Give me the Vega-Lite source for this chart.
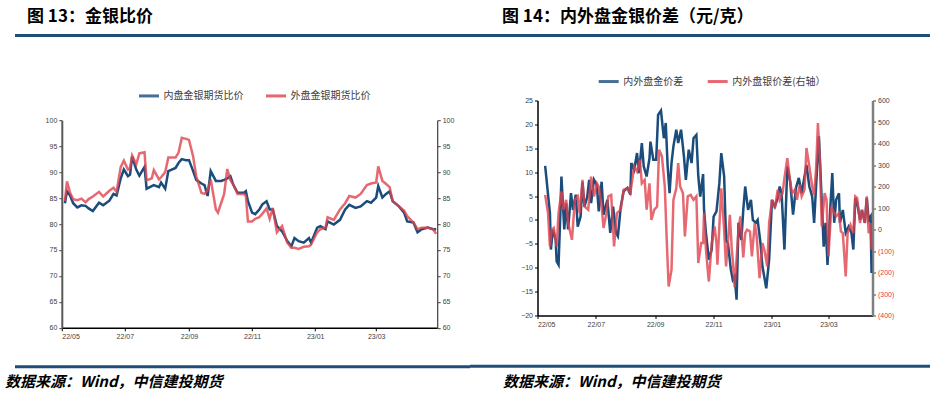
{
"$schema":"https://vega.github.io/schema/vega-lite/v6.json",
"background":"white",
"padding":{"left":5,"top":8,"right":5,"bottom":0},
"config":{"view":{"stroke":null},"font":"Noto Sans CJK SC","axis":{"labelFont":"Liberation Sans","labelFontSize":7,"labelColor":"#404040","labelPadding":2,"tickSize":3,"grid":false,"title":null}},
"datasets":{
"L":[
{"d":"2022-05-04","a":84.0,"b":84.4},{"d":"2022-05-06","a":86.3,"b":88.2},{"d":"2022-05-09","a":85.5,"b":86.0},{"d":"2022-05-12","a":84.0,"b":84.8},{"d":"2022-05-16","a":83.2,"b":84.6},{"d":"2022-05-20","a":83.6,"b":84.9},{"d":"2022-05-24","a":83.5,"b":84.2},{"d":"2022-05-27","a":83.0,"b":84.8},{"d":"2022-05-31","a":82.5,"b":85.3},{"d":"2022-06-06","a":84.1,"b":86.2},{"d":"2022-06-10","a":83.6,"b":85.3},{"d":"2022-06-16","a":84.5,"b":86.4},{"d":"2022-06-20","a":85.8,"b":87.0},{"d":"2022-06-23","a":85.5,"b":86.2},{"d":"2022-06-27","a":88.8,"b":91.0},{"d":"2022-06-30","a":90.5,"b":92.2},{"d":"2022-07-04","a":89.2,"b":90.5},{"d":"2022-07-06","a":89.5,"b":90.8},{"d":"2022-07-08","a":93.0,"b":93.2},{"d":"2022-07-12","a":90.5,"b":91.5},{"d":"2022-07-15","a":89.3,"b":93.6},{"d":"2022-07-20","a":91.0,"b":93.8},{"d":"2022-07-22","a":86.8,"b":88.4},{"d":"2022-07-27","a":87.3,"b":88.8},{"d":"2022-07-29","a":87.5,"b":90.4},{"d":"2022-08-03","a":87.1,"b":88.6},{"d":"2022-08-05","a":88.0,"b":89.0},{"d":"2022-08-09","a":86.8,"b":90.0},{"d":"2022-08-12","a":90.2,"b":92.8},{"d":"2022-08-19","a":90.8,"b":92.8},{"d":"2022-08-22","a":91.8,"b":93.8},{"d":"2022-08-25","a":92.5,"b":96.6},{"d":"2022-08-29","a":92.3,"b":96.4},{"d":"2022-09-01","a":92.3,"b":96.2},{"d":"2022-09-05","a":90.2,"b":93.0},{"d":"2022-09-08","a":88.5,"b":89.2},{"d":"2022-09-13","a":87.8,"b":86.0},{"d":"2022-09-16","a":87.5,"b":85.8},{"d":"2022-09-19","a":85.4,"b":86.5},{"d":"2022-09-22","a":90.2,"b":88.6},{"d":"2022-09-27","a":88.3,"b":82.8},{"d":"2022-09-29","a":88.3,"b":82.2},{"d":"2022-10-02","a":88.3,"b":84.0},{"d":"2022-10-05","a":88.5,"b":85.8},{"d":"2022-10-08","a":88.8,"b":90.6},{"d":"2022-10-11","a":89.2,"b":88.5},{"d":"2022-10-14","a":87.5,"b":87.5},{"d":"2022-10-18","a":86.0,"b":85.8},{"d":"2022-10-24","a":86.0,"b":85.8},{"d":"2022-10-26","a":86.3,"b":85.4},{"d":"2022-10-28","a":84.4,"b":80.5},{"d":"2022-11-01","a":82.2,"b":80.5},{"d":"2022-11-04","a":81.9,"b":81.0},{"d":"2022-11-08","a":82.8,"b":81.3},{"d":"2022-11-11","a":83.8,"b":82.0},{"d":"2022-11-15","a":84.4,"b":83.0},{"d":"2022-11-18","a":82.8,"b":81.0},{"d":"2022-11-21","a":82.8,"b":83.1},{"d":"2022-11-25","a":79.6,"b":78.4},{"d":"2022-11-30","a":78.6,"b":79.6},{"d":"2022-12-05","a":76.7,"b":76.4},{"d":"2022-12-09","a":75.7,"b":75.4},{"d":"2022-12-12","a":77.3,"b":75.4},{"d":"2022-12-16","a":76.7,"b":75.2},{"d":"2022-12-21","a":76.4,"b":75.6},{"d":"2022-12-26","a":77.3,"b":75.7},{"d":"2022-12-28","a":76.4,"b":76.0},{"d":"2023-01-03","a":79.3,"b":78.4},{"d":"2023-01-06","a":79.6,"b":79.0},{"d":"2023-01-11","a":79.0,"b":79.3},{"d":"2023-01-13","a":80.5,"b":81.3},{"d":"2023-01-19","a":79.9,"b":80.8},{"d":"2023-01-25","a":80.8,"b":82.8},{"d":"2023-01-30","a":82.8,"b":84.0},{"d":"2023-02-03","a":83.7,"b":85.4},{"d":"2023-02-09","a":83.1,"b":85.1},{"d":"2023-02-14","a":83.4,"b":85.8},{"d":"2023-02-20","a":84.4,"b":87.5},{"d":"2023-02-24","a":84.1,"b":87.8},{"d":"2023-03-01","a":85.1,"b":88.0},{"d":"2023-03-03","a":87.3,"b":91.1},{"d":"2023-03-07","a":85.1,"b":88.3},{"d":"2023-03-10","a":85.7,"b":87.8},{"d":"2023-03-14","a":86.3,"b":87.1},{"d":"2023-03-17","a":84.4,"b":84.4},{"d":"2023-03-23","a":83.4,"b":83.4},{"d":"2023-03-28","a":82.2,"b":82.6},{"d":"2023-03-31","a":80.5,"b":81.5},{"d":"2023-04-06","a":80.3,"b":80.3},{"d":"2023-04-10","a":78.4,"b":79.0},{"d":"2023-04-14","a":79.0,"b":79.3},{"d":"2023-04-20","a":79.3,"b":79.3},{"d":"2023-04-25","a":79.0,"b":79.0},{"d":"2023-04-28","a":79.0,"b":78.1}
],
"AU":[
{"d":"2022-05-09","v":11.3},{"d":"2022-05-14","v":1.4},{"d":"2022-05-15","v":-6.2},{"d":"2022-05-17","v":-2.0},{"d":"2022-05-20","v":-4.2},{"d":"2022-05-21","v":-8.7},{"d":"2022-05-23","v":-9.4},{"d":"2022-05-25","v":2.1},{"d":"2022-05-26","v":9.1},{"d":"2022-05-29","v":-2.0},{"d":"2022-05-31","v":3.5},{"d":"2022-06-02","v":-2.0},{"d":"2022-06-05","v":5.6},{"d":"2022-06-07","v":2.1},{"d":"2022-06-10","v":5.3},{"d":"2022-06-12","v":-1.4},{"d":"2022-06-15","v":0.7},{"d":"2022-06-17","v":8.0},{"d":"2022-06-19","v":2.8},{"d":"2022-06-22","v":4.9},{"d":"2022-06-24","v":8.4},{"d":"2022-06-26","v":3.5},{"d":"2022-06-29","v":8.4},{"d":"2022-07-02","v":7.3},{"d":"2022-07-04","v":1.8},{"d":"2022-07-07","v":8.0},{"d":"2022-07-09","v":1.1},{"d":"2022-07-13","v":4.2},{"d":"2022-07-16","v":-2.7},{"d":"2022-07-19","v":2.8},{"d":"2022-07-22","v":-2.7},{"d":"2022-07-24","v":-3.4},{"d":"2022-07-27","v":2.8},{"d":"2022-07-30","v":6.0},{"d":"2022-08-03","v":6.7},{"d":"2022-08-06","v":5.3},{"d":"2022-08-07","v":11.9},{"d":"2022-08-10","v":10.5},{"d":"2022-08-13","v":14.0},{"d":"2022-08-15","v":9.8},{"d":"2022-08-18","v":16.1},{"d":"2022-08-20","v":11.2},{"d":"2022-08-23","v":9.1},{"d":"2022-08-26","v":12.9},{"d":"2022-08-27","v":16.4},{"d":"2022-08-30","v":12.6},{"d":"2022-09-02","v":12.6},{"d":"2022-09-04","v":22.0},{"d":"2022-09-07","v":22.9},{"d":"2022-09-10","v":17.1},{"d":"2022-09-12","v":20.3},{"d":"2022-09-14","v":11.2},{"d":"2022-09-16","v":5.6},{"d":"2022-09-18","v":11.9},{"d":"2022-09-20","v":15.4},{"d":"2022-09-23","v":18.9},{"d":"2022-09-25","v":16.1},{"d":"2022-09-28","v":18.9},{"d":"2022-10-01","v":13.3},{"d":"2022-10-03","v":8.4},{"d":"2022-10-06","v":14.7},{"d":"2022-10-09","v":11.9},{"d":"2022-10-11","v":17.1},{"d":"2022-10-14","v":17.8},{"d":"2022-10-16","v":9.1},{"d":"2022-10-18","v":4.9},{"d":"2022-10-21","v":9.6},{"d":"2022-10-22","v":2.1},{"d":"2022-10-24","v":-2.7},{"d":"2022-10-27","v":-8.3},{"d":"2022-10-30","v":-6.2},{"d":"2022-11-01","v":0.7},{"d":"2022-11-04","v":1.8},{"d":"2022-11-07","v":7.7},{"d":"2022-11-09","v":14.0},{"d":"2022-11-12","v":9.1},{"d":"2022-11-14","v":-4.2},{"d":"2022-11-16","v":-4.9},{"d":"2022-11-19","v":-10.4},{"d":"2022-11-21","v":-12.5},{"d":"2022-11-23","v":-11.8},{"d":"2022-11-25","v":-16.7},{"d":"2022-11-27","v":-0.6},{"d":"2022-11-30","v":-4.2},{"d":"2022-12-02","v":2.1},{"d":"2022-12-04","v":7.0},{"d":"2022-12-07","v":2.1},{"d":"2022-12-10","v":4.2},{"d":"2022-12-12","v":0},{"d":"2022-12-15","v":-0.6},{"d":"2022-12-17","v":0},{"d":"2022-12-20","v":-4.9},{"d":"2022-12-22","v":-9.7},{"d":"2022-12-26","v":-14.3},{"d":"2022-12-29","v":-8.3},{"d":"2023-01-01","v":4.2},{"d":"2023-01-04","v":2.8},{"d":"2023-01-07","v":4.6},{"d":"2023-01-09","v":7.0},{"d":"2023-01-11","v":5.6},{"d":"2023-01-14","v":-6.2},{"d":"2023-01-17","v":11.2},{"d":"2023-01-20","v":8.0},{"d":"2023-01-23","v":1.1},{"d":"2023-01-26","v":6.7},{"d":"2023-01-29","v":8.8},{"d":"2023-02-01","v":5.6},{"d":"2023-02-06","v":11.5},{"d":"2023-02-09","v":7.0},{"d":"2023-02-12","v":4.9},{"d":"2023-02-14","v":-0.6},{"d":"2023-02-17","v":10.5},{"d":"2023-02-19","v":17.5},{"d":"2023-02-21","v":8.4},{"d":"2023-02-24","v":-5.6},{"d":"2023-02-26","v":-0.6},{"d":"2023-02-28","v":-9.4},{"d":"2023-03-03","v":2.8},{"d":"2023-03-05","v":9.8},{"d":"2023-03-07","v":-0.6},{"d":"2023-03-09","v":4.2},{"d":"2023-03-12","v":5.6},{"d":"2023-03-13","v":-0.6},{"d":"2023-03-16","v":2.1},{"d":"2023-03-19","v":-2.7},{"d":"2023-03-22","v":-1.4},{"d":"2023-03-25","v":-2.7},{"d":"2023-03-27","v":-6.2},{"d":"2023-03-29","v":4.6},{"d":"2023-03-31","v":3.5},{"d":"2023-04-03","v":0},{"d":"2023-04-05","v":2.1},{"d":"2023-04-08","v":-0.6},{"d":"2023-04-10","v":4.6},{"d":"2023-04-12","v":0},{"d":"2023-04-14","v":0.7},{"d":"2023-04-15","v":-11.1}
],
"AG":[
{"d":"2022-05-09","v":161},{"d":"2022-05-12","v":76},{"d":"2022-05-14","v":-79},{"d":"2022-05-16","v":-1},{"d":"2022-05-18","v":7},{"d":"2022-05-21","v":-79},{"d":"2022-05-23","v":76},{"d":"2022-05-26","v":177},{"d":"2022-05-28","v":92},{"d":"2022-05-31","v":138},{"d":"2022-06-02","v":30},{"d":"2022-06-06","v":-48},{"d":"2022-06-09","v":138},{"d":"2022-06-12","v":154},{"d":"2022-06-14","v":76},{"d":"2022-06-17","v":231},{"d":"2022-06-19","v":107},{"d":"2022-06-23","v":92},{"d":"2022-06-26","v":246},{"d":"2022-06-29","v":154},{"d":"2022-07-02","v":215},{"d":"2022-07-04","v":200},{"d":"2022-07-07","v":107},{"d":"2022-07-09","v":7},{"d":"2022-07-12","v":76},{"d":"2022-07-14","v":154},{"d":"2022-07-17","v":161},{"d":"2022-07-20","v":-79},{"d":"2022-07-23","v":76},{"d":"2022-07-27","v":92},{"d":"2022-07-30","v":185},{"d":"2022-08-03","v":192},{"d":"2022-08-06","v":169},{"d":"2022-08-10","v":293},{"d":"2022-08-13","v":270},{"d":"2022-08-16","v":324},{"d":"2022-08-18","v":215},{"d":"2022-08-21","v":231},{"d":"2022-08-23","v":92},{"d":"2022-08-26","v":215},{"d":"2022-08-28","v":45},{"d":"2022-08-31","v":92},{"d":"2022-09-03","v":107},{"d":"2022-09-05","v":371},{"d":"2022-09-08","v":340},{"d":"2022-09-11","v":200},{"d":"2022-09-13","v":-48},{"d":"2022-09-15","v":-265},{"d":"2022-09-18","v":-188},{"d":"2022-09-20","v":138},{"d":"2022-09-23","v":192},{"d":"2022-09-25","v":309},{"d":"2022-09-27","v":200},{"d":"2022-09-30","v":169},{"d":"2022-10-02","v":-32},{"d":"2022-10-05","v":154},{"d":"2022-10-08","v":161},{"d":"2022-10-11","v":138},{"d":"2022-10-14","v":154},{"d":"2022-10-16","v":-156},{"d":"2022-10-19","v":-63},{"d":"2022-10-21","v":-63},{"d":"2022-10-22","v":76},{"d":"2022-10-24","v":-94},{"d":"2022-10-27","v":-242},{"d":"2022-10-30","v":-63},{"d":"2022-11-02","v":14},{"d":"2022-11-04","v":-63},{"d":"2022-11-05","v":-164},{"d":"2022-11-07","v":14},{"d":"2022-11-09","v":192},{"d":"2022-11-12","v":-1},{"d":"2022-11-14","v":-172},{"d":"2022-11-18","v":68},{"d":"2022-11-20","v":-94},{"d":"2022-11-21","v":-141},{"d":"2022-11-23","v":-268},{"d":"2022-11-27","v":-1},{"d":"2022-11-29","v":61},{"d":"2022-12-02","v":-130},{"d":"2022-12-04","v":-17},{"d":"2022-12-06","v":-1},{"d":"2022-12-09","v":-9},{"d":"2022-12-11","v":-125},{"d":"2022-12-14","v":30},{"d":"2022-12-16","v":-32},{"d":"2022-12-19","v":-226},{"d":"2022-12-22","v":-63},{"d":"2022-12-24","v":-94},{"d":"2022-12-27","v":-172},{"d":"2022-12-29","v":30},{"d":"2023-01-01","v":138},{"d":"2023-01-04","v":99},{"d":"2023-01-07","v":185},{"d":"2023-01-09","v":138},{"d":"2023-01-12","v":169},{"d":"2023-01-14","v":239},{"d":"2023-01-17","v":332},{"d":"2023-01-20","v":223},{"d":"2023-01-22","v":169},{"d":"2023-01-25","v":185},{"d":"2023-01-27","v":138},{"d":"2023-01-30","v":208},{"d":"2023-02-01","v":154},{"d":"2023-02-04","v":185},{"d":"2023-02-06","v":379},{"d":"2023-02-09","v":293},{"d":"2023-02-12","v":200},{"d":"2023-02-14","v":161},{"d":"2023-02-16","v":278},{"d":"2023-02-18","v":495},{"d":"2023-02-20","v":324},{"d":"2023-02-22","v":14},{"d":"2023-02-25","v":169},{"d":"2023-02-27","v":138},{"d":"2023-03-01","v":-125},{"d":"2023-03-04","v":107},{"d":"2023-03-06","v":84},{"d":"2023-03-09","v":61},{"d":"2023-03-12","v":76},{"d":"2023-03-14","v":-9},{"d":"2023-03-16","v":-17},{"d":"2023-03-19","v":-218},{"d":"2023-03-21","v":-17},{"d":"2023-03-24","v":22},{"d":"2023-03-27","v":-17},{"d":"2023-03-29","v":154},{"d":"2023-03-31","v":146},{"d":"2023-04-03","v":30},{"d":"2023-04-05","v":92},{"d":"2023-04-08","v":30},{"d":"2023-04-10","v":154},{"d":"2023-04-12","v":-17},{"d":"2023-04-14","v":30},{"d":"2023-04-15","v":-94}
]
},
"resolve":{"scale":{"color":"independent"},"legend":{"color":"independent"}},
"hconcat":[
{"resolve":{"scale":{"color":"independent"},"legend":{"color":"independent"}},
 "vconcat":[
  {"resolve":{"scale":{"color":"independent"},"legend":{"color":"independent"}},
   "vconcat":[
    {"width":455,"height":3,"data":{"values":[{}]},"mark":{"type":"rect","color":"#1f4e78"},"encoding":{},
     "title":{"text":"图 13：金银比价","anchor":"start","dx":12,"offset":8,"fontSize":17,"fontWeight":"bold","color":"#000000","font":"Noto Sans CJK SC"}},
    {"resolve":{"scale":{"color":"independent"},"legend":{"color":"independent"}},
     "hconcat":[
      {"width":1,"height":1,"data":{"values":[{}]},"mark":{"type":"point","opacity":0,"size":0}},
      {"width":375.4,"height":207.6,"data":{"name":"L"},
       "encoding":{"x":{"field":"d","type":"temporal","scale":{"type":"utc","domain":[{"year":2022,"month":5,"date":1,"utc":true},{"year":2023,"month":4,"date":29,"utc":true}]},
          "axis":{"values":[{"year":2022,"month":5,"date":1,"utc":true},{"year":2022,"month":7,"date":1,"utc":true},{"year":2022,"month":9,"date":1,"utc":true},{"year":2022,"month":11,"date":1,"utc":true},{"year":2023,"month":1,"date":1,"utc":true},{"year":2023,"month":3,"date":1,"utc":true}],"format":"%y/%m","domainColor":"#000000","domainWidth":1.5,"tickColor":"#000000"}}},
       "layer":[
        {"mark":{"type":"line","strokeWidth":2.5,"clip":true},
         "encoding":{"y":{"field":"a","type":"quantitative","scale":{"domain":[60,100]},"axis":{"orient":"left","values":[60,65,70,75,80,85,90,95,100],"domainColor":"#595959","domainWidth":2,"tickColor":"#404040"}},
           "color":{"datum":"内盘金银期货比价","scale":{"domain":["内盘金银期货比价","外盘金银期货比价"],"range":["#1a4c7c","#e0434d"]},
             "legend":{"orient":"none","legendX":75.7,"legendY":-36,"direction":"horizontal","title":null,"symbolType":"stroke","symbolSize":400,"symbolStrokeWidth":3,"labelFontSize":10,"labelColor":"#404040","labelFont":"Noto Sans CJK SC","columnPadding":16,"labelOffset":3,"padding":0}}}},
        {"mark":{"type":"line","strokeWidth":2.5,"opacity":0.8,"clip":true},
         "encoding":{"y":{"field":"b","type":"quantitative","scale":{"domain":[60,100]},"axis":{"orient":"right","values":[60,65,70,75,80,85,90,95,100],"domainColor":"#404040","domainWidth":1.2,"tickColor":"#404040"}},
           "color":{"datum":"外盘金银期货比价"}}}
       ],
       "resolve":{"scale":{"y":"independent"}}}
    ],"spacing":28.8}
  ],"spacing":47.2},
  {"width":455,"height":3,"data":{"values":[{}]},"mark":{"type":"rect","color":"#1f4e78"},"encoding":{},
   "title":{"text":"数据来源：Wind，中信建投期货","orient":"bottom","anchor":"start","dx":-10,"offset":7,"fontSize":15,"fontWeight":"bold","fontStyle":"italic","color":"#000000","font":"Noto Sans CJK SC"}}
 ],"spacing":25.2},
{"resolve":{"scale":{"color":"independent"},"legend":{"color":"independent"}},
 "vconcat":[
  {"resolve":{"scale":{"color":"independent"},"legend":{"color":"independent"}},
   "vconcat":[
    {"width":460,"height":3,"data":{"values":[{}]},"mark":{"type":"rect","color":"#1f4e78"},"encoding":{},
     "title":{"text":"图 14：内外盘金银价差（元/克）","anchor":"start","dx":32,"offset":8,"fontSize":17,"fontWeight":"bold","color":"#000000","font":"Noto Sans CJK SC"}},
    {"resolve":{"scale":{"color":"independent"},"legend":{"color":"independent"}},
     "hconcat":[
      {"width":1,"height":1,"data":{"values":[{}]},"mark":{"type":"point","opacity":0,"size":0}},
      {"width":335,"height":215,
       "encoding":{"x":{"field":"d","type":"temporal","scale":{"type":"utc","domain":[{"year":2022,"month":5,"date":1,"utc":true},{"year":2023,"month":4,"date":16,"utc":true}]},
          "axis":{"values":[{"year":2022,"month":5,"date":1,"utc":true},{"year":2022,"month":7,"date":1,"utc":true},{"year":2022,"month":9,"date":1,"utc":true},{"year":2022,"month":11,"date":1,"utc":true},{"year":2023,"month":1,"date":1,"utc":true},{"year":2023,"month":3,"date":1,"utc":true}],"format":"%y/%m","domainColor":"#000000","domainWidth":1.5,"tickColor":"#000000"}}},
       "layer":[
        {"data":{"name":"AU"},"mark":{"type":"line","strokeWidth":2.5,"clip":true},
         "encoding":{"y":{"field":"v","type":"quantitative","scale":{"domain":[-20,25]},"axis":{"orient":"left","values":[-20,-15,-10,-5,0,5,10,15,20,25],"domainColor":"#000000","domainWidth":1.5,"tickColor":"#000000"}},
           "color":{"datum":"内外盘金价差","scale":{"domain":["内外盘金价差","内外盘银价差(右轴）"],"range":["#1a4c7c","#e0434d"]},
             "legend":{"orient":"none","legendX":59.7,"legendY":-30.7,"direction":"horizontal","title":null,"symbolType":"stroke","symbolSize":400,"symbolStrokeWidth":3,"labelFontSize":10,"labelColor":"#404040","labelFont":"Noto Sans CJK SC","columnPadding":18,"labelOffset":3,"padding":0}}}},
        {"data":{"name":"AG"},"mark":{"type":"line","strokeWidth":2.5,"opacity":0.8,"clip":true},
         "encoding":{"y":{"field":"v","type":"quantitative","scale":{"domain":[-400,600]},"axis":{"orient":"right","values":[-400,-300,-200,-100,0,100,200,300,400,500,600],"labelExpr":"datum.value < 0 ? '(' + (-datum.value) + ')' : '' + datum.value","labelColor":{"condition":{"test":"datum.value < 0","value":"#e8383d"},"value":"#404040"},"domainColor":"#808080","domainWidth":2.5,"tickColor":"#404040"}},
           "color":{"datum":"内外盘银价差(右轴）"}}}
       ],
       "resolve":{"scale":{"y":"independent"}}}
    ],"spacing":49.5}
  ],"spacing":32.5},
  {"width":460,"height":3,"data":{"values":[{}]},"mark":{"type":"rect","color":"#1f4e78"},"encoding":{},
   "title":{"text":"数据来源：Wind，中信建投期货","orient":"bottom","anchor":"start","dx":33,"offset":7,"fontSize":15,"fontWeight":"bold","fontStyle":"italic","color":"#000000","font":"Noto Sans CJK SC"}}
 ],"spacing":36.8}
],
"spacing":0
}
